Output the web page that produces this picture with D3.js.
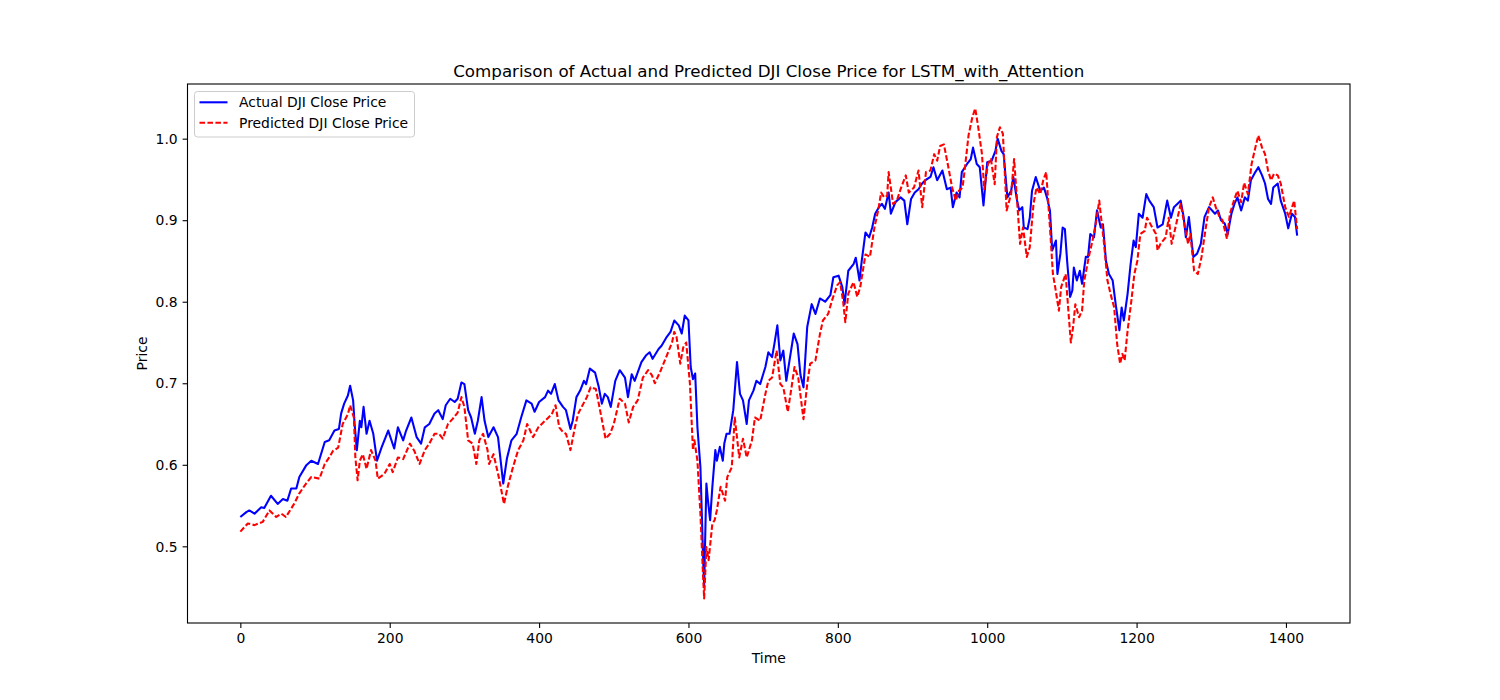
<!DOCTYPE html>
<html>
<head>
<meta charset="utf-8">
<script src="https://cdn.jsdelivr.net/npm/d3@7"></script>
<style>
  html, body { margin: 0; padding: 0; background: #fff; }
  svg { display: block; font-family: "DejaVu Sans", sans-serif; }
</style>
</head>
<body>
<svg id="chart" width="1500" height="700"></svg>
<script>
const titleText = "Comparison of Actual and Predicted DJI Close Price for LSTM_with_Attention";
const xLabel = "Time";
const yLabel = "Price";
const seriesNames = ["Actual DJI Close Price", "Predicted DJI Close Price"];
const xTicks = [0, 200, 400, 600, 800, 1000, 1200, 1400];
const yTicks = [0.5, 0.6, 0.7, 0.8, 0.9, 1.0];

const actualTime = [0,8,12,19,28,32,41,50,57,63,68,75,79,88,95,104,113,119,126,132,135,139,144,147,151,153,156,160,162,165,169,173,178,183,189,198,206,211,218,222,229,236,242,247,253,260,265,271,275,281,287,291,296,300,305,309,314,318,323,327,332,339,345,352,357,363,370,376,383,390,394,400,408,412,416,421,426,432,436,442,445,450,455,460,463,468,475,480,484,488,492,496,502,508,515,519,524,528,537,543,548,552,560,564,571,576,581,587,591,595,600,603,606,609,612,616,618,620,621,624,626,629,632,636,638,642,646,648,651,655,660,665,669,673,678,681,687,691,696,703,707,712,715,719,723,727,731,736,741,746,750,754,759,765,770,776,783,790,794,801,806,809,814,821,824,829,832,837,842,846,850,855,859,863,868,871,877,884,889,893,898,903,908,912,917,924,928,933,940,946,951,954,959,963,966,973,978,981,986,990,995,1000,1006,1011,1014,1019,1022,1027,1032,1035,1040,1043,1047,1049,1054,1057,1060,1065,1071,1076,1080,1084,1087,1092,1094,1098,1101,1104,1107,1111,1114,1116,1120,1124,1127,1132,1135,1138,1143,1147,1152,1155,1159,1163,1168,1172,1177,1180,1183,1188,1192,1196,1199,1203,1208,1213,1217,1223,1228,1235,1241,1246,1250,1259,1263,1266,1270,1276,1281,1286,1291,1297,1305,1309,1313,1318,1322,1327,1331,1335,1340,1345,1349,1353,1359,1363,1368,1372,1376,1380,1383,1389,1393,1399,1403,1408,1412,1415];
const actualPrice = [0.536,0.542,0.544,0.540,0.548,0.547,0.562,0.552,0.558,0.556,0.571,0.571,0.585,0.599,0.605,0.601,0.628,0.630,0.642,0.644,0.663,0.675,0.685,0.697,0.679,0.650,0.618,0.654,0.646,0.671,0.638,0.654,0.638,0.605,0.621,0.642,0.620,0.646,0.630,0.642,0.658,0.634,0.626,0.646,0.650,0.663,0.667,0.656,0.673,0.681,0.677,0.681,0.701,0.699,0.667,0.658,0.638,0.654,0.683,0.654,0.634,0.646,0.634,0.577,0.608,0.630,0.638,0.658,0.679,0.675,0.665,0.677,0.683,0.691,0.687,0.699,0.679,0.671,0.667,0.644,0.654,0.683,0.691,0.703,0.699,0.718,0.713,0.695,0.675,0.687,0.683,0.671,0.703,0.716,0.707,0.683,0.711,0.703,0.726,0.734,0.738,0.730,0.742,0.746,0.757,0.763,0.777,0.771,0.761,0.783,0.777,0.720,0.705,0.712,0.646,0.597,0.536,0.475,0.452,0.577,0.557,0.532,0.573,0.618,0.605,0.622,0.605,0.626,0.638,0.638,0.667,0.726,0.687,0.679,0.650,0.679,0.691,0.703,0.699,0.720,0.738,0.732,0.748,0.771,0.728,0.740,0.703,0.732,0.761,0.748,0.710,0.695,0.769,0.797,0.785,0.804,0.800,0.808,0.830,0.832,0.818,0.797,0.838,0.846,0.854,0.826,0.850,0.885,0.879,0.891,0.908,0.916,0.920,0.914,0.934,0.908,0.922,0.928,0.924,0.895,0.926,0.934,0.938,0.944,0.949,0.953,0.965,0.949,0.961,0.938,0.940,0.916,0.934,0.928,0.959,0.969,0.975,0.989,0.969,0.965,0.918,0.971,0.973,0.985,1.000,0.985,0.981,0.928,0.936,0.953,0.924,0.912,0.916,0.891,0.889,0.903,0.936,0.953,0.936,0.940,0.928,0.912,0.863,0.875,0.834,0.859,0.891,0.889,0.850,0.806,0.814,0.842,0.826,0.838,0.822,0.855,0.855,0.883,0.879,0.912,0.891,0.895,0.850,0.834,0.826,0.797,0.765,0.793,0.777,0.810,0.846,0.875,0.867,0.908,0.903,0.932,0.924,0.916,0.891,0.895,0.924,0.903,0.916,0.924,0.904,0.879,0.904,0.855,0.859,0.871,0.904,0.916,0.908,0.912,0.900,0.896,0.883,0.908,0.920,0.928,0.912,0.928,0.924,0.949,0.959,0.965,0.955,0.945,0.926,0.920,0.940,0.945,0.924,0.908,0.890,0.908,0.904,0.881];

const predictedTime = [0,10,19,30,39,48,55,61,72,79,88,95,106,113,119,124,131,137,144,147,152,154,157,160,164,169,175,181,184,193,200,204,211,218,227,233,240,247,253,260,266,271,278,284,291,296,300,305,311,316,320,325,331,333,339,346,353,358,365,372,379,384,392,399,408,417,422,427,432,436,442,448,452,457,464,469,476,481,486,489,495,500,508,515,520,526,532,539,546,551,555,563,571,578,581,584,589,593,597,602,606,608,612,616,619,621,624,627,632,635,638,643,649,652,658,662,668,673,678,685,689,696,703,707,712,718,723,727,733,738,742,747,754,759,763,770,776,780,787,792,799,803,807,810,814,821,826,830,837,843,849,854,858,862,866,868,874,879,884,891,895,902,908,913,918,924,929,933,937,942,948,953,958,962,967,971,975,980,984,988,993,996,1001,1005,1010,1013,1017,1021,1026,1032,1036,1040,1044,1048,1053,1057,1062,1066,1071,1075,1079,1084,1088,1091,1096,1099,1105,1109,1112,1115,1118,1123,1127,1130,1136,1141,1146,1150,1153,1156,1161,1165,1170,1174,1178,1181,1184,1188,1193,1197,1201,1205,1211,1214,1221,1226,1228,1232,1239,1243,1247,1253,1259,1265,1269,1272,1277,1282,1287,1292,1297,1302,1306,1311,1315,1321,1325,1331,1335,1340,1344,1349,1354,1359,1363,1368,1372,1376,1380,1384,1389,1393,1399,1404,1411,1415];
const predictedPrice = [0.518,0.528,0.526,0.530,0.544,0.536,0.540,0.536,0.552,0.565,0.577,0.585,0.583,0.601,0.609,0.617,0.621,0.650,0.662,0.673,0.658,0.609,0.581,0.605,0.613,0.595,0.618,0.605,0.583,0.589,0.601,0.591,0.609,0.607,0.626,0.617,0.601,0.618,0.626,0.638,0.638,0.632,0.650,0.656,0.664,0.683,0.671,0.630,0.626,0.601,0.630,0.638,0.618,0.601,0.613,0.585,0.552,0.573,0.597,0.618,0.630,0.650,0.634,0.646,0.654,0.662,0.673,0.646,0.640,0.638,0.618,0.646,0.662,0.671,0.683,0.695,0.693,0.670,0.646,0.632,0.638,0.650,0.681,0.675,0.652,0.671,0.679,0.707,0.716,0.710,0.700,0.716,0.734,0.750,0.763,0.757,0.724,0.744,0.750,0.699,0.618,0.630,0.605,0.540,0.475,0.436,0.499,0.483,0.528,0.532,0.544,0.573,0.556,0.585,0.597,0.658,0.609,0.632,0.609,0.630,0.658,0.654,0.687,0.703,0.707,0.740,0.699,0.695,0.665,0.695,0.720,0.707,0.656,0.699,0.724,0.728,0.760,0.777,0.785,0.801,0.820,0.824,0.801,0.775,0.810,0.824,0.806,0.818,0.858,0.855,0.891,0.912,0.934,0.928,0.930,0.959,0.920,0.924,0.938,0.955,0.934,0.940,0.961,0.916,0.959,0.961,0.981,0.973,0.991,0.993,0.965,0.940,0.924,0.936,0.940,0.971,1.004,1.026,1.037,1.014,0.981,0.938,0.969,0.975,0.944,1.002,1.014,1.006,0.912,0.932,0.975,0.924,0.871,0.891,0.855,0.867,0.920,0.940,0.932,0.949,0.959,0.891,0.834,0.818,0.789,0.818,0.834,0.785,0.750,0.769,0.797,0.781,0.789,0.826,0.855,0.875,0.899,0.924,0.899,0.875,0.826,0.810,0.793,0.748,0.724,0.736,0.728,0.765,0.801,0.834,0.850,0.883,0.887,0.903,0.891,0.883,0.863,0.871,0.879,0.903,0.871,0.895,0.920,0.890,0.871,0.883,0.838,0.834,0.855,0.887,0.916,0.928,0.916,0.904,0.900,0.877,0.908,0.926,0.936,0.922,0.946,0.932,0.969,0.989,1.004,0.989,0.981,0.961,0.949,0.957,0.955,0.945,0.916,0.904,0.924,0.889];

const actual = actualTime.map((t, i) => ({ t, v: actualPrice[i] }));
const predicted = predictedTime.map((t, i) => ({ t, v: predictedPrice[i] }));

const svg = d3.select("#chart");
const W = 1500, H = 700;
const plot = { left: 187.5, right: 1350, top: 84, bottom: 623 };

function padded(ext) {
  const span = ext[1] - ext[0];
  return [ext[0] - 0.05 * span, ext[1] + 0.05 * span];
}
const allT = actualTime.concat(predictedTime);
const allV = actualPrice.concat(predictedPrice);
const x = d3.scaleLinear().domain(padded(d3.extent(allT))).range([plot.left, plot.right]);
const y = d3.scaleLinear().domain(padded(d3.extent(allV))).range([plot.bottom, plot.top]);

svg.append("rect").attr("width", W).attr("height", H).attr("fill", "#fff");

svg.append("defs").append("clipPath").attr("id", "clip")
  .append("rect").attr("x", plot.left).attr("y", plot.top)
  .attr("width", plot.right - plot.left).attr("height", plot.bottom - plot.top);

const line = d3.line().x(d => x(d.t)).y(d => y(d.v));
const g = svg.append("g").attr("clip-path", "url(#clip)");
g.append("path").datum(actual).attr("d", line)
  .attr("fill", "none").attr("stroke", "#0000ff").attr("stroke-width", 2.08)
  .attr("stroke-linejoin", "round").attr("stroke-linecap", "butt");
g.append("path").datum(predicted).attr("d", line)
  .attr("fill", "none").attr("stroke", "#ff0000").attr("stroke-width", 2.08)
  .attr("stroke-dasharray", "5.55,2.4")
  .attr("stroke-linejoin", "round").attr("stroke-linecap", "butt");

// Axes
const fontSize = 13.9;
const xAxis = d3.axisBottom(x).tickValues(xTicks).tickFormat(d3.format("d")).tickSize(4.9).tickPadding(4.9);
const yAxis = d3.axisLeft(y).tickValues(yTicks).tickFormat(d3.format(".1f")).tickSize(4.9).tickPadding(4.9);

const gx = svg.append("g").attr("transform", `translate(0,${plot.bottom})`).call(xAxis);
const gy = svg.append("g").attr("transform", `translate(${plot.left},0)`).call(yAxis);
[gx, gy].forEach(a => {
  a.select(".domain").remove();
  a.selectAll(".tick line").attr("stroke", "#000").attr("stroke-width", 1.1);
  a.selectAll(".tick text").attr("fill", "#000").attr("font-size", fontSize)
    .attr("font-family", "DejaVu Sans, sans-serif");
});
gx.selectAll(".tick text").attr("dy", "0.71em");
gy.selectAll(".tick text").attr("dy", "0.34em");

// Spines
svg.append("rect").attr("x", plot.left).attr("y", plot.top)
  .attr("width", plot.right - plot.left).attr("height", plot.bottom - plot.top)
  .attr("fill", "none").attr("stroke", "#000").attr("stroke-width", 1.1);

// Labels
svg.append("text").attr("x", (plot.left + plot.right) / 2).attr("y", 76.5)
  .attr("text-anchor", "middle").attr("font-size", 16.7).attr("fill", "#000").text(titleText);
svg.append("text").attr("x", (plot.left + plot.right) / 2).attr("y", 663)
  .attr("text-anchor", "middle").attr("font-size", fontSize).attr("fill", "#000").text(xLabel);
svg.append("text").attr("transform", `translate(147,${(plot.top + plot.bottom) / 2}) rotate(-90)`)
  .attr("text-anchor", "middle").attr("font-size", fontSize).attr("fill", "#000").text(yLabel);

// Legend
const lg = svg.append("g");
lg.append("rect").attr("x", 194.5).attr("y", 91.5).attr("width", 220).attr("height", 45.5)
  .attr("rx", 3).attr("fill", "#fff").attr("fill-opacity", 0.8)
  .attr("stroke", "#cccccc").attr("stroke-width", 1);
const legendStyles = [
  { color: "#0000ff", dash: null },
  { color: "#ff0000", dash: "5.55,2.4" }
];
seriesNames.forEach((name, i) => {
  const cy = 102.3 + i * 20.4;
  const l = lg.append("line").attr("x1", 199.5).attr("x2", 227.5).attr("y1", cy).attr("y2", cy)
    .attr("stroke", legendStyles[i].color).attr("stroke-width", 2.08);
  if (legendStyles[i].dash) l.attr("stroke-dasharray", legendStyles[i].dash);
  lg.append("text").attr("x", 239).attr("y", cy).attr("dy", "0.36em")
    .attr("font-size", fontSize).attr("fill", "#000").text(name);
});
</script>
</body>
</html>
